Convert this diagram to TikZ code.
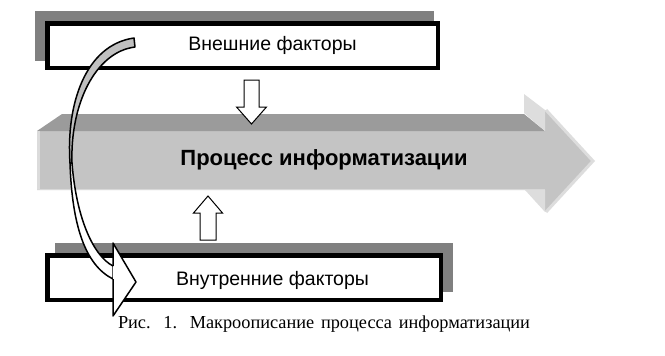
\documentclass[tikz,border=0pt]{standalone}
\usepackage{fontspec}
\setmainfont{Liberation Serif}
\setsansfont{Liberation Sans}
\definecolor{shadowgray}{HTML}{808080}
\definecolor{frontgray}{HTML}{C4C4C4}
\definecolor{topgray}{HTML}{9B9B9B}
\definecolor{lightgray}{HTML}{DDDDDD}
\definecolor{ribbongray}{HTML}{C0C0C0}
\tikzset{
  boxshadow/.style={fill=shadowgray, draw=none},
  boxframe/.style={fill=white, draw=black, line width=4.5pt},
  boxlabel/.style={font=\sffamily\fontsize{19.5}{22}\selectfont, inner sep=0pt, anchor=base},
  mainlabel/.style={font=\sffamily\bfseries\fontsize{22}{25}\selectfont, inner sep=0pt, anchor=base},
  captionlabel/.style={font=\rmfamily\fontsize{18.3}{21}\selectfont, inner sep=0pt, anchor=base},
  blockarrow/.style={fill=white, draw=black, line width=1pt, line join=miter},
  ribbon/.style={draw=black, line width=1.5pt, line join=round},
}

\begin{document}
\begin{tikzpicture}[x=1pt, y=-1pt]
\useasboundingbox (0,0) rectangle (665,356);
% boxes
\fill[boxshadow] (35,11) rectangle (434,61);
\draw[boxframe] (47.25,23.25) rectangle (437.75,67.75);
\fill[boxshadow] (55,243) rectangle (453,292);
\draw[boxframe] (47.25,255.25) rectangle (440.75,299.75);
% main arrow
\fill[frontgray] (37,131) -- (545,131) -- (545,110) -- (593,161) -- (545,212) -- (545,190) -- (37,190) -- cycle;
\fill[topgray] (37,131) -- (62,114) -- (524,114) -- (545,131) -- cycle;
\fill[lightgray] (524,113) -- (524,94) -- (545,110) -- (545,131) -- cycle;
\fill[lightgray] (525,190) -- (545,190) -- (545,212) -- cycle;
\draw[lightgray, line width=3pt] (546,110) -- (593,161) -- (546,212);
\draw[lightgray!90!frontgray, line width=3pt] (38.5,131) -- (38.5,190);
\draw[lightgray!80!frontgray, line width=1.5pt] (37,189.25) -- (545,189.25);
% small arrows
\draw[blockarrow] (244,80) -- (259,80) -- (259,107) -- (266.5,107) -- (251.5,124) -- (236.5,107) -- (244,107) -- cycle;
\draw[blockarrow] (200,240) -- (216,240) -- (216,213) -- (222.5,213) -- (208,196) -- (193.5,213) -- (200,213) -- cycle;
% texts
\node[boxlabel] (outertext) at (272.5,50) {Внешние факторы};
\node[boxlabel] (innertext) at (272.5,285) {Внутренние факторы};
\node[mainlabel] (processtext) at (324,165) {Процесс информатизации};
\node[captionlabel] (caption) at (324,328) {\makebox[412pt][s]{Рис. 1. Макроописание процесса информатизации}};
% curved arrow
\filldraw[ribbon, fill=ribbongray] (134,38) .. controls (85,45) and (66,105) .. (70,163)
  -- (72,163) .. controls (70,105) and (95,52) .. (135,47) -- cycle;
\filldraw[ribbon, fill=white] (70,163) .. controls (72,225) and (85,265) .. (113,279)
  -- (113,266) .. controls (92,255) and (76,215) .. (72,163) -- cycle;
\filldraw[ribbon, fill=white] (113,266) -- (113,243) -- (136,282) -- (113,316) -- (113,279);
\end{tikzpicture}
\end{document}
